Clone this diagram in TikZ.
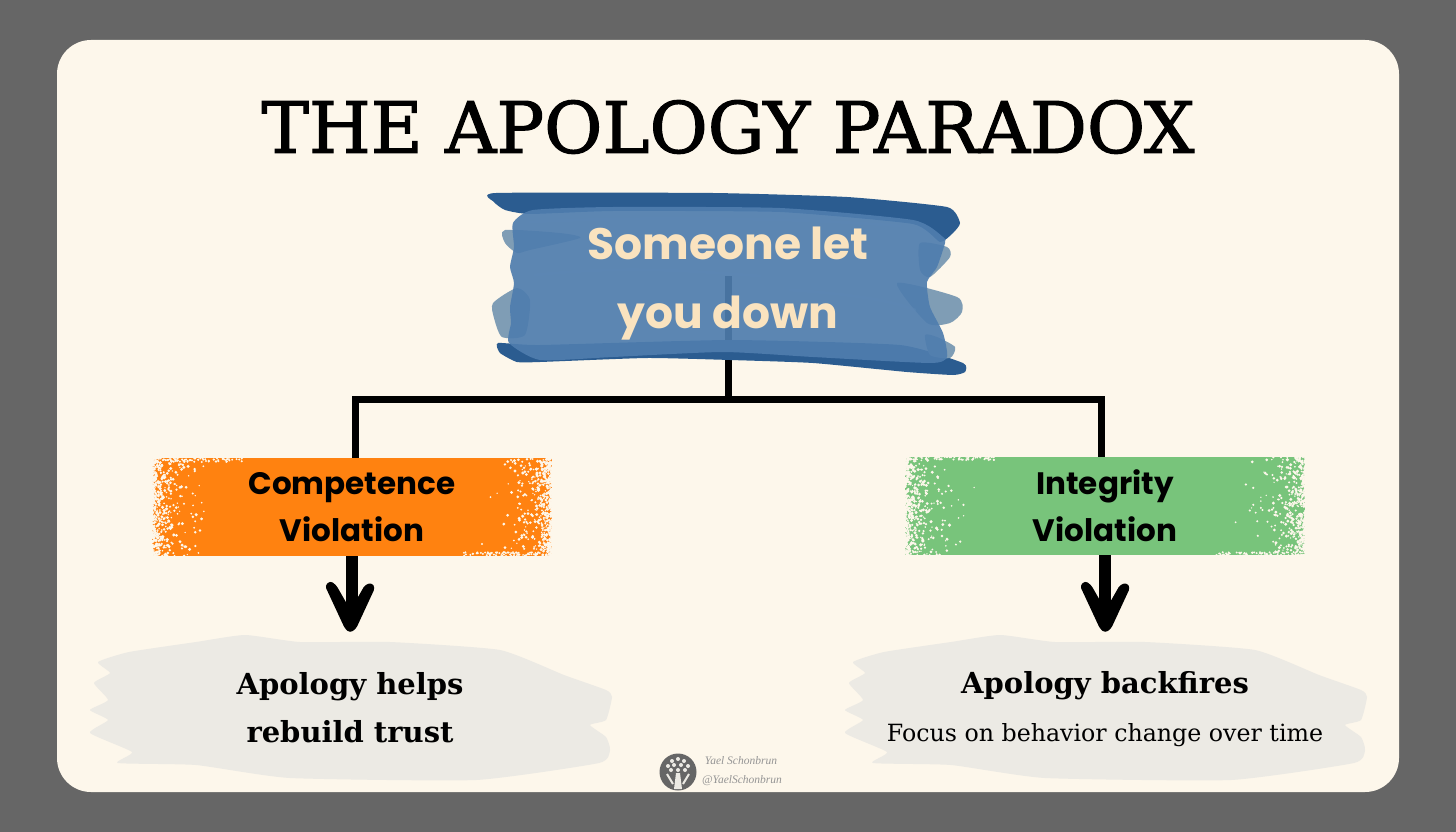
\documentclass[tikz,border=0pt]{standalone}
\usepackage{fontspec}
\usepackage{tikz}
\newfontfamily\slabfont{DejaVu Serif}
\newfontfamily\titlefont[FakeBold=1.6]{DejaVu Serif}
\newfontfamily\geofont{Poppins}
\newfontfamily\signfont{Liberation Serif}
\definecolor{slate}{HTML}{666666}
\definecolor{paper}{HTML}{FDF7EB}
\definecolor{inkblue}{HTML}{2B5C90}
\definecolor{washblue}{HTML}{4F7DAE}
\definecolor{streakblue}{HTML}{5C88B5}
\definecolor{tuftblue}{HTML}{7F9DB5}
\definecolor{cream}{HTML}{FAE3BF}
\definecolor{tangerine}{HTML}{FF8210}
\definecolor{leaf}{HTML}{78C47B}
\definecolor{swash}{HTML}{ECEAE4}
% speckled ends of a brush stroke: left x, right x, top y, bottom y
\newcommand{\speckle}[4]{%
  \foreach \i in {1,...,560} {
    \pgfmathsetmacro{\du}{78*rnd*rnd*rnd}
    \pgfmathsetmacro{\yy}{#3+(#4-#3)*rnd}
    \pgfmathsetmacro{\rr}{0.7+1.0*rnd}
    \fill[paper] (#1+\du,\yy) circle (\rr);
    \pgfmathsetmacro{\du}{78*rnd*rnd*rnd}
    \pgfmathsetmacro{\yy}{#3+(#4-#3)*rnd}
    \fill[paper] (#2-\du,\yy) circle (\rr);
  }
  \foreach \i in {1,...,70} {
    \pgfmathsetmacro{\du}{90*rnd}
    \pgfmathsetmacro{\vv}{#3+4*rnd}
    \fill[paper] (#1+\du,\vv) circle (1.1);
    \pgfmathsetmacro{\du}{90*rnd}
    \pgfmathsetmacro{\vv}{#4-4*rnd}
    \fill[paper] (#2-\du,\vv) circle (1.1);
  }
}
\tikzset{
    treeline/.style={line width=7pt, black},
    flow/.style={line width=12pt, black, shorten >=24pt},
    patch/.style={minimum width=400pt, minimum height=98pt, inner sep=0pt, align=center,
        font=\geofont\bfseries\fontsize{31}{47}\selectfont},
    outcome/.style={minimum width=500pt, minimum height=148pt, inner sep=0pt, align=center},
    pics/handhead/.style={code={
        \fill[black, rounded corners=3pt] (0,1) -- (-5,-3) -- (-25,-46) -- (-20,-51) -- (-14,-47)
            -- (-2,-26) -- (3,-26) -- (15,-47) -- (22,-49) -- (25,-44) -- (6,-3) -- cycle;
    }},
    pics/swashstroke/.style={code={
        \fill[swash] plot[smooth cycle, tension=0.3] coordinates {
            (-105,-71) (-50,-64) (40,-64) (150,-56) (214,-31) (256,-16) (262,-9) (256,14)
            (240,19) (256,31) (260,44) (249,57) (126,74) (-60,72) (-154,59) (-232,57)
            (-218,46) (-260,27) (-242,14) (-260,4) (-242,-6) (-256,-23) (-240,-33)
            (-252,-44) (-221,-54) (-154,-64)};
    }}
}
\begin{document}
\begin{tikzpicture}[x=1pt, y=-1pt]
    \useasboundingbox (0,0) rectangle (1456,832);
    \pgfmathsetseed{42}
    \fill[slate] (0,0) rectangle (1456,832);
    \fill[paper, rounded corners=34pt] (57,40) rectangle (1399,792);

    % 1. Title
    \node[font=\titlefont\fontsize{71}{71}\selectfont] (title) at (728,127) {THE APOLOGY PARADOX};

    % 2. Tree lines
    \coordinate (trunktop) at (728,276);
    \coordinate (junction) at (728,399);
    \coordinate (dropleft) at (355,460);
    \coordinate (elbowleft) at (355,399);
    \coordinate (elbowright) at (1101,399);
    \coordinate (dropright) at (1101,460);
    \draw[treeline] (trunktop) -- (junction);
    \draw[treeline] (dropleft) -- (elbowleft) -- (elbowright) -- (dropright);

    % 3. Blue brush strokes
    \fill[inkblue] plot[smooth cycle, tension=0.3] coordinates {
        (496,193) (713,193) (847,197) (947,207) (960,223) (953,233) (940,242)
        (913,224) (780,212) (613,211) (530,214) (505,210) (494,202)};
    \fill[inkblue] plot[smooth cycle, tension=0.3] coordinates {
        (498,343) (540,345) (730,340) (900,345) (963,363) (965,372) (953,375)
        (907,372) (813,363) (730,360) (647,358) (540,362) (517,362) (500,353)};
    \fill[tuftblue] plot[smooth cycle, tension=0.4] coordinates {
        (505,230) (560,233) (580,238) (530,250) (517,253) (505,243)};
    \fill[tuftblue] plot[smooth cycle, tension=0.4] coordinates {
        (493,303) (517,288) (530,300) (525,335) (502,337) (494,318)};
    \fill[tuftblue] plot[smooth cycle, tension=0.4] coordinates {
        (897,283) (957,297) (962,312) (950,323) (927,323)};
    \fill[tuftblue] plot[smooth cycle, tension=0.4] coordinates {
        (925,335) (937,337) (955,347) (950,358) (930,355)};
    \fill[tuftblue] plot[smooth cycle, tension=0.4] coordinates {
        (920,243) (947,247) (950,257) (930,277) (920,270)};
    \fill[washblue, opacity=0.92] plot[smooth cycle, tension=0.35] coordinates {
        (513,223) (533,210) (613,207) (780,208) (913,220) (943,237) (945,243) (937,267)
        (927,282) (930,307) (943,333) (947,357) (930,363) (813,357) (723,352) (613,357)
        (540,360) (509,343) (511,323) (510,307) (514,283) (510,267) (514,247)};
    \draw[streakblue, line width=3pt, line cap=round, opacity=0.45]
        (530,222) .. controls (650,216) and (800,218) .. (900,226);
    \draw[streakblue, line width=3pt, line cap=round, opacity=0.45]
        (535,275) .. controls (620,266) and (680,270) .. (760,276);
    \draw[streakblue, line width=3pt, line cap=round, opacity=0.45]
        (790,290) .. controls (850,294) and (890,300) .. (915,310);
    \node[inner sep=0pt, align=center, text=cream,
        font=\geofont\bfseries\fontsize{44}{69}\selectfont] (someone) at (728,284) {Someone let\\you down};

    % 4. Violation patches
    \node[patch, fill=tangerine] (competence) at (352,507) {Competence\\Violation};
    \speckle{152}{552}{458}{556}
    \node[patch, fill=leaf] (integrity) at (1105,506) {Integrity\\Violation};
    \speckle{905}{1306}{456}{556}

    % 5. Outcomes
    \node[outcome] (helps) at (350,706) {};
    \node[outcome] (backfires) at (1105,706) {};
    \pic at (helps.center) {swashstroke};
    \pic at (backfires.center) {swashstroke};
    \node[font=\slabfont\bfseries\fontsize{29}{48}\selectfont, align=center] (helpstext) at (350,708) {Apology helps\\rebuild trust};
    \node[font=\slabfont\bfseries\fontsize{29}{29}\selectfont] (backfirestext) at (1105,686) {Apology backfires};
    \node[font=\slabfont\fontsize{23.7}{24}\selectfont] (focustext) at (1105,735) {Focus on behavior change over time};
    \draw[flow] (competence.south) -- (competence.south |- helps.north);
    \draw[flow] (integrity.south) -- (backfires.north);
    \pic at (helps.north) {handhead};
    \pic at (backfires.north) {handhead};

    % 6. Logo
    \fill[slate] (678,772) circle (18.5);
    \foreach \dotx/\doty in {672/761, 678/759, 684/761, 668/766, 674/765, 681/765, 688/766, 671/770, 678/770, 685/770}
        \fill[swash] (\dotx,\doty) circle (2);
    \fill[swash] (676,773) -- (680,773) -- (682,789) -- (674,789) -- cycle;
    \draw[swash, line width=2pt] (667,774) -- (673,784);
    \draw[swash, line width=2pt] (689,774) -- (683,784);
    \node[text=slate!70, font=\signfont\itshape\fontsize{11.5}{12}\selectfont] (signname) at (741,761) {Yael Schonbrun};
    \node[text=slate!70, font=\signfont\itshape\fontsize{11.5}{12}\selectfont] (signhandle) at (742,781) {@YaelSchonbrun};
\end{tikzpicture}
\end{document}
